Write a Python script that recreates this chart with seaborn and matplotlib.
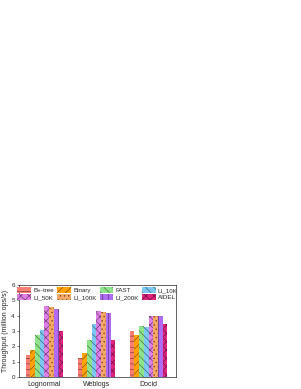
import pandas as pd
import matplotlib.pyplot as plt
import matplotlib.colors as mcolors
import seaborn as sns
from matplotlib.patches import Patch

# 数据
datasets = ['Lognormal', 'Weblogs', 'Docid']
methods = ['B+-tree', 'Binary', 'FAST', 'LI_10K', 'LI_50K', 'LI_100K', 'LI_200K', 'AIDEL']
lognormal = [1.45, 1.78, 2.75, 3.08, 4.65, 4.58, 4.45, 3.00]
weblogs = [1.25, 1.58, 2.42, 3.45, 4.30, 4.25, 4.20, 2.42]
docid = [3.02, 2.75, 3.35, 3.28, 3.95, 4.00, 3.95, 3.48]

colors = ['#FA7F72', '#FFA200', '#8FE38A', '#7CC8F2', '#E07FE6', '#F5A864', '#B06BF2', '#E0237E']
hatches = ['---', '////', '\\\\\\\\', '\\\\\\\\', 'xxxx', '....', '|||', 'xxxx']

rows = []
for ds, vals in zip(datasets, [lognormal, weblogs, docid]):
    for m, v in zip(methods, vals):
        rows.append({'Dataset': ds, 'Method': m, 'Throughput': v})
df = pd.DataFrame(rows)

sns.set_style('ticks')
plt.rcParams['font.family'] = ['Liberation Sans', 'DejaVu Sans']
plt.rcParams['hatch.linewidth'] = 0.4

fig = plt.figure(figsize=(3.01, 3.89), dpi=100)
ax = fig.add_axes([0.063, 0.030, 0.522, 0.238])

sns.barplot(data=df, x='Dataset', y='Throughput', hue='Method', order=datasets,
            hue_order=methods, palette=colors, width=0.72, ax=ax, legend=False,
            saturation=1)

def darker(c, f=0.4):
    r, g, b = mcolors.to_rgb(c)
    return (r * f, g * f, b * f)

for i, cont in enumerate(ax.containers):
    for bar in cont:
        bar.set_hatch(hatches[i])
        bar.set_edgecolor(darker(colors[i]))
        bar.set_linewidth(0)

ax.set_xlim(-0.49, 2.53)
ax.set_ylim(0, 6)
ax.set_yticks(range(0, 7))
ax.tick_params(axis='y', labelsize=4.5, length=1.5, width=0.4, pad=1.5)
ax.tick_params(axis='x', labelsize=5, length=0, pad=2.5)
ax.set_xlabel('')
ax.set_ylabel('Throughput (million ops/s)', fontsize=5, labelpad=1.5)
for s in ax.spines.values():
    s.set_linewidth(0.5)

# 图例按行排列
order = [0, 4, 1, 5, 2, 6, 3, 7]
handles = [Patch(facecolor=colors[i], edgecolor=darker(colors[i]), hatch=hatches[i],
                 linewidth=0, label=methods[i]) for i in order]
ax.legend(handles=handles, ncol=4, loc='upper center', fontsize=4.5, frameon=False,
          handlelength=2.2, handleheight=1.1, columnspacing=0.5, handletextpad=0.35,
          labelspacing=0.15, borderaxespad=0.2, borderpad=0.2)

plt.savefig('out.png', dpi=100)
